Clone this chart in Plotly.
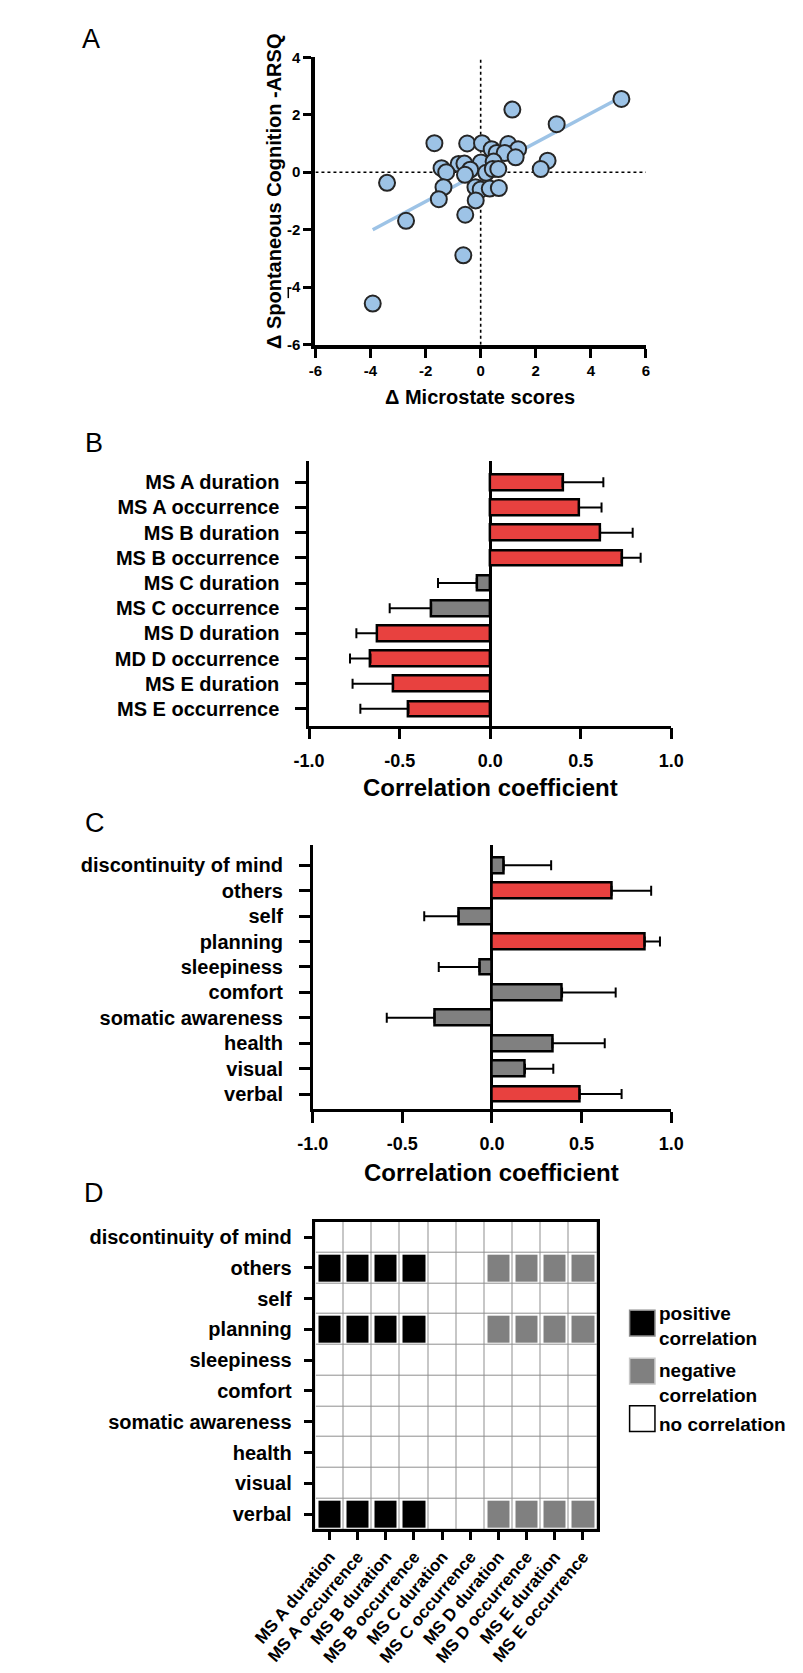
import numpy as np
import plotly.graph_objects as go

# ---------------- data ----------------
# Panel A: scatter
X_MS = [5.11, 1.15, 2.76, -1.68, -0.49, 0.05, 0.40, 1.00, 1.36, 0.58, 0.87, 1.27,
        2.43, 2.18, -0.80, -0.59, 0.01, 0.47, -1.42, -1.25, -0.38, -0.57, 0.20,
        0.44, 0.64, -1.35, -0.19, 0.00, 0.33, 0.66, -1.52, -0.18, -2.71, -0.56,
        -3.40, -0.63, -3.92]
Y_ARSQ = [2.55, 2.18, 1.67, 1.01, 1.00, 1.01, 0.80, 0.98, 0.80, 0.67, 0.67, 0.52,
          0.40, 0.11, 0.29, 0.30, 0.34, 0.37, 0.14, 0.00, 0.09, -0.09, -0.02,
          0.11, 0.11, -0.52, -0.52, -0.60, -0.57, -0.55, -0.94, -0.98, -1.69, -1.48,
          -0.37, -2.89, -4.57]
A_TICKS = [-6, -4, -2, 0, 2, 4, 6]
A_TICKTEXT = ["-6", "-4", "-2", "0", "2", "4", "6"]

# Panel B: microstate correlations
B_LABELS = ["MS A duration", "MS A occurrence", "MS B duration", "MS B occurrence",
            "MS C duration", "MS C occurrence", "MS D duration", "MD D occurrence",
            "MS E duration", "MS E occurrence"]
B_R = [0.40, 0.49, 0.607, 0.726, -0.074, -0.326, -0.625, -0.661, -0.536, -0.451]
B_TIP = [0.625, 0.615, 0.787, 0.831, -0.288, -0.555, -0.739, -0.774, -0.760, -0.717]
B_SIG = [1, 1, 1, 1, 0, 0, 1, 1, 1, 1]

# Panel C: ARSQ dimension correlations
C_LABELS = ["discontinuity of mind", "others", "self", "planning", "sleepiness",
            "comfort", "somatic awareness", "health", "visual", "verbal"]
C_R = [0.065, 0.667, -0.186, 0.852, -0.070, 0.391, -0.321, 0.337, 0.184, 0.489]
C_TIP = [0.330, 0.888, -0.378, 0.937, -0.297, 0.690, -0.587, 0.629, 0.342, 0.723]
C_SIG = [0, 1, 0, 1, 0, 0, 0, 0, 0, 1]

CORR_TICKS = [-1.0, -0.5, 0.0, 0.5, 1.0]
CORR_TICKTEXT = ["-1.0", "-0.5", "0.0", "0.5", "1.0"]

# Panel D: correlation matrix (1 positive, -1 negative, 0 none)
D_ROWS = C_LABELS
D_COLS = ["MS A duration", "MS A occurrence", "MS B duration", "MS B occurrence",
          "MS C duration", "MS C occurrence", "MS D duration", "MS D occurrence",
          "MS E duration", "MS E occurrence"]
D_PATTERN = [1, 1, 1, 1, 0, 0, -1, -1, -1, -1]
D_SIG_ROWS = ["others", "planning", "verbal"]
D_MATRIX = [[(v if r in D_SIG_ROWS else 0) for v in D_PATTERN] for r in D_ROWS]

# ---------------- style ----------------
W, H = 803, 1673
FONT = "Liberation Sans, Arial, sans-serif"
NARROW = "Liberation Sans Narrow, Liberation Sans, Arial, sans-serif"
RED = "#E8413F"
GREY = "#808080"
BLUE = "#9DC3E6"


def fx(px):
    return px / W


def fy(py):
    return 1 - py / H


fig = go.Figure()

# ---------------- Panel A ----------------
slope, intercept = np.polyfit(X_MS, Y_ARSQ, 1)
xl = np.array([min(X_MS), max(X_MS)])
fig.add_trace(go.Scatter(x=xl, y=slope * xl + intercept, mode="lines",
                         line=dict(color=BLUE, width=3.5), xaxis="x", yaxis="y",
                         showlegend=False, hoverinfo="skip"))
fig.add_trace(go.Scatter(x=X_MS, y=Y_ARSQ, mode="markers",
                         marker=dict(size=16, color=BLUE, line=dict(color="#262626", width=2)),
                         xaxis="x", yaxis="y", showlegend=False))

# ---------------- Panel B / C ----------------
def bar_trace(vals, tips, sig, xa, ya):
    plus = [max(t - v, 0) if v >= 0 else 0 for v, t in zip(vals, tips)]
    minus = [max(v - t, 0) if v < 0 else 0 for v, t in zip(vals, tips)]
    return go.Bar(x=vals, y=list(range(len(vals))), orientation="h", width=0.62,
                  marker=dict(color=[RED if s else GREY for s in sig],
                              line=dict(color="black", width=2.5)),
                  error_x=dict(type="data", symmetric=False, array=plus, arrayminus=minus,
                               color="black", thickness=2, width=5),
                  xaxis=xa, yaxis=ya, showlegend=False)


fig.add_trace(bar_trace(B_R, B_TIP, B_SIG, "x2", "y2"))
fig.add_trace(bar_trace(C_R, C_TIP, C_SIG, "x3", "y3"))

# ---------------- Panel D ----------------
nr, nc = len(D_ROWS), len(D_COLS)
xs = list(range(nc))
ys = list(range(nr))
fig.add_trace(go.Heatmap(z=[[1] * nc for _ in range(nr)], x=xs, y=ys,
                         colorscale=[[0, "#8f8f8f"], [1, "#8f8f8f"]], showscale=False,
                         xaxis="x4", yaxis="y4", hoverinfo="skip"))
fig.add_trace(go.Heatmap(z=[[1] * nc for _ in range(nr)], x=xs, y=ys,
                         colorscale=[[0, "white"], [1, "white"]], showscale=False,
                         xgap=1, ygap=1, xaxis="x4", yaxis="y4", hoverinfo="skip"))
zc = [[(v if v != 0 else None) for v in row] for row in D_MATRIX]
fig.add_trace(go.Heatmap(z=zc, x=xs, y=ys, zmin=-1, zmax=1,
                         colorscale=[[0, GREY], [0.5, GREY], [0.5, "black"], [1, "black"]],
                         showscale=False, xgap=6, ygap=4, xaxis="x4", yaxis="y4"))

# ---------------- axes ----------------
bold = dict(family=FONT, color="black", weight="bold")

fig.update_layout(
    xaxis=dict(domain=[fx(270), fx(635)], range=[-6, 6], tickvals=A_TICKS,
               ticktext=A_TICKTEXT,
               showline=True, linewidth=4, linecolor="black", ticks="outside",
               ticklen=9, tickwidth=3, tickcolor="black", showgrid=False, zeroline=False,
               tickfont=dict(family=NARROW, size=15, color="black", weight="bold"),
               anchor="y"),
    yaxis=dict(domain=[fy(331), fy(40.7)], range=[-6, 4], tickvals=A_TICKS[:-1],
               ticktext=A_TICKTEXT[:-1],
               showline=True, linewidth=4, linecolor="black", ticks="outside",
               ticklen=8, tickwidth=3, tickcolor="black", showgrid=False, zeroline=False,
               tickfont=dict(family=NARROW, size=15, color="black", weight="bold"),
               anchor="x"),
    xaxis2=dict(domain=[fx(263), fx(663)], range=[-1, 1], tickvals=CORR_TICKS,
                ticktext=CORR_TICKTEXT, showline=True, linewidth=2.5, linecolor="black",
                ticks="outside", ticklen=11, tickwidth=2.5, tickcolor="black",
                showgrid=False, zeroline=True, zerolinecolor="black", zerolinewidth=2.5,
                tickfont=dict(size=18, **bold), ticklabelstandoff=6, anchor="y2"),
    yaxis2=dict(domain=[fy(716), fy(449)], range=[9.67, -0.83],
                tickvals=list(range(len(B_LABELS))), ticktext=B_LABELS,
                showline=True, linewidth=2.5, linecolor="black", ticks="outside",
                ticklen=11, tickwidth=2.5, tickcolor="black", showgrid=False,
                zeroline=False, tickfont=dict(size=20, **bold), ticklabelstandoff=12,
                anchor="x2"),
    xaxis3=dict(domain=[fx(267), fx(663)], range=[-1, 1], tickvals=CORR_TICKS,
                ticktext=CORR_TICKTEXT, showline=True, linewidth=2.5, linecolor="black",
                ticks="outside", ticklen=11, tickwidth=2.5, tickcolor="black",
                showgrid=False, zeroline=True, zerolinecolor="black", zerolinewidth=2.5,
                tickfont=dict(size=18, **bold), ticklabelstandoff=6, anchor="y3"),
    yaxis3=dict(domain=[fy(1103), fy(837)], range=[9.58, -0.78],
                tickvals=list(range(len(C_LABELS))), ticktext=C_LABELS,
                showline=True, linewidth=2.5, linecolor="black", ticks="outside",
                ticklen=11, tickwidth=2.5, tickcolor="black", showgrid=False,
                zeroline=False, tickfont=dict(size=20, **bold), ticklabelstandoff=12,
                anchor="x3"),
    xaxis4=dict(domain=[fx(270), fx(581)], range=[-0.5, nc - 0.5], tickvals=xs,
                ticktext=D_COLS, tickangle=-50, showline=True, mirror=True,
                linewidth=2.5, linecolor="black", ticks="outside", ticklen=8,
                tickwidth=2.5, tickcolor="black", showgrid=False, zeroline=False,
                tickfont=dict(size=17, **bold), anchor="y4"),
    yaxis4=dict(domain=[fy(1528), fy(1217)], range=[nr - 0.5, -0.5], tickvals=ys,
                ticktext=D_ROWS, showline=True, mirror=True, linewidth=2.5,
                linecolor="black", ticks="outside", ticklen=9, tickwidth=2.5,
                tickcolor="black", showgrid=False, zeroline=False,
                tickfont=dict(size=20, **bold), ticklabelstandoff=8, anchor="x4"),
)

# ---------------- reference lines (panel A) ----------------
shapes = [
    dict(type="line", xref="x", yref="y", x0=0, x1=0, y0=-6, y1=4, layer="below",
         line=dict(color="black", width=1.6, dash="dot")),
    dict(type="line", xref="x", yref="y", x0=-6, x1=6, y0=0, y1=0, layer="below",
         line=dict(color="black", width=1.6, dash="dot")),
    dict(type="line", xref="paper", yref="paper", x0=fx(240), x1=fx(240), y0=fy(273),
         y1=fy(284), line=dict(color="black", width=1.5)),
]

# legend swatches (panel D)
LEGEND_ITEMS = [("positive<br>correlation", "black", "#8a8a8a", 1319.5, 1322),
                ("negative<br>correlation", GREY, "#c8c8c8", 1368, 1380),
                ("no correlation", "white", "black", 1416, 1422)]
annotations = []
for text, fill, edge, cy, ty in LEGEND_ITEMS:
    shapes.append(dict(type="rect", xref="paper", yref="paper", x0=fx(617), x1=fx(645),
                       y0=fy(cy + 13), y1=fy(cy - 13), fillcolor=fill,
                       line=dict(color=edge, width=1.5)))
    annotations.append(dict(text=text, x=fx(647), y=fy(ty), xref="paper", yref="paper",
                            xanchor="left", yanchor="middle", align="left", showarrow=False,
                            font=dict(size=19, **bold)))

# panel letters
for letter, px, py in [("A", 22, 22), ("B", 25, 430), ("C", 26, 814), ("D", 25, 1188)]:
    annotations.append(dict(text=letter, x=fx(px), y=fy(py), xref="paper", yref="paper",
                            xanchor="center", yanchor="middle", showarrow=False,
                            font=dict(size=27, family=FONT, color="black")))

# axis titles
annotations += [
    dict(text="Δ Microstate scores", x=fx(452), y=fy(384), xref="paper", yref="paper",
         showarrow=False, xanchor="center", yanchor="middle", font=dict(size=20, **bold)),
    dict(text="Δ Spontaneous Cognition -ARSQ", x=fx(224), y=fy(176), xref="paper",
         yref="paper", textangle=-90, showarrow=False, xanchor="center",
         yanchor="middle", font=dict(size=20, **bold)),
    dict(text="Correlation coefficient", x=fx(463), y=fy(778), xref="paper", yref="paper",
         showarrow=False, xanchor="center", yanchor="middle", font=dict(size=24, **bold)),
    dict(text="Correlation coefficient", x=fx(465), y=fy(1167), xref="paper",
         yref="paper", showarrow=False, xanchor="center", yanchor="middle",
         font=dict(size=24, **bold)),
]

fig.update_layout(width=W, height=H, autosize=False,
                  margin=dict(l=0, r=0, t=0, b=0),
                  paper_bgcolor="white", plot_bgcolor="white",
                  font=dict(family=FONT, color="black"),
                  shapes=shapes, annotations=annotations, showlegend=False,
                  bargap=0)

fig.write_html("out.html")
